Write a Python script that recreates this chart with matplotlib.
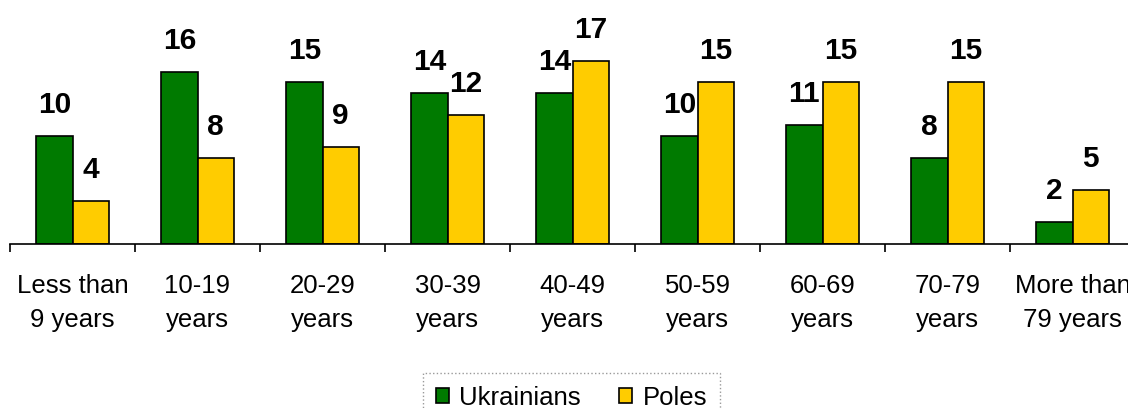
import matplotlib.pyplot as plt
import numpy as np

plt.rcParams['font.family'] = ['Liberation Sans', 'DejaVu Sans']

categories = ['Less than\n9 years', '10-19\nyears', '20-29\nyears', '30-39\nyears',
              '40-49\nyears', '50-59\nyears', '60-69\nyears', '70-79\nyears',
              'More than\n79 years']
ukrainians = [10, 16, 15, 14, 14, 10, 11, 8, 2]
poles = [4, 8, 9, 12, 17, 15, 15, 15, 5]

W, H = 1128, 408
fig = plt.figure(figsize=(W / 100, H / 100), dpi=100)
# axes spans 10px .. 1135px horizontally, baseline at y=243.5 px
ymax = 22
px_per_unit = 10.75
bottom = (H - 243.5) / H
ax = fig.add_axes([10 / W, bottom, 1125 / W, ymax * px_per_unit / H])

x = np.arange(len(categories))
w = 0.29
green = '#007A00'
yellow = '#FFCC00'
b1 = ax.bar(x - w / 2, ukrainians, w, color=green, edgecolor='black', linewidth=1.2, label='Ukrainians')
b2 = ax.bar(x + w / 2, poles, w, color=yellow, edgecolor='black', linewidth=1.2, label='Poles')

for bars, vals in ((b1, ukrainians), (b2, poles)):
    for rect, v in zip(bars, vals):
        ax.annotate(str(v), (rect.get_x() + rect.get_width() / 2, v),
                    xytext=(0, 16.5), textcoords='offset points',
                    ha='center', va='baseline', fontsize=21.5, fontweight='bold')

ax.set_xlim(-0.5, len(categories) - 0.5)
ax.set_ylim(0, ymax)
ax.set_xticks(x)
ax.set_xticklabels(categories, fontsize=18.5, linespacing=1.5)
ax.set_xticks(np.arange(len(categories)) - 0.5, minor=True)
ax.tick_params(axis='x', which='major', length=0, pad=22)
ax.tick_params(axis='x', which='minor', length=6, width=1.2, direction='out')
ax.set_yticks([])
for s in ('top', 'right', 'left'):
    ax.spines[s].set_visible(False)
ax.spines['bottom'].set_linewidth(1.2)

leg = fig.legend(handles=[b1, b2], loc='upper center',
                 bbox_to_anchor=(571.5 / W, 1 - 373 / H), ncol=2, fontsize=18.5,
                 frameon=True, fancybox=False, borderaxespad=0,
                 handlelength=0.5, handleheight=0.5,
                 handletextpad=0.4, columnspacing=1.5, borderpad=0.5)
leg.get_frame().set_edgecolor('#808080')
leg.get_frame().set_linestyle(':')
leg.get_frame().set_linewidth(1.0)

fig.savefig('out.png', dpi=100)
